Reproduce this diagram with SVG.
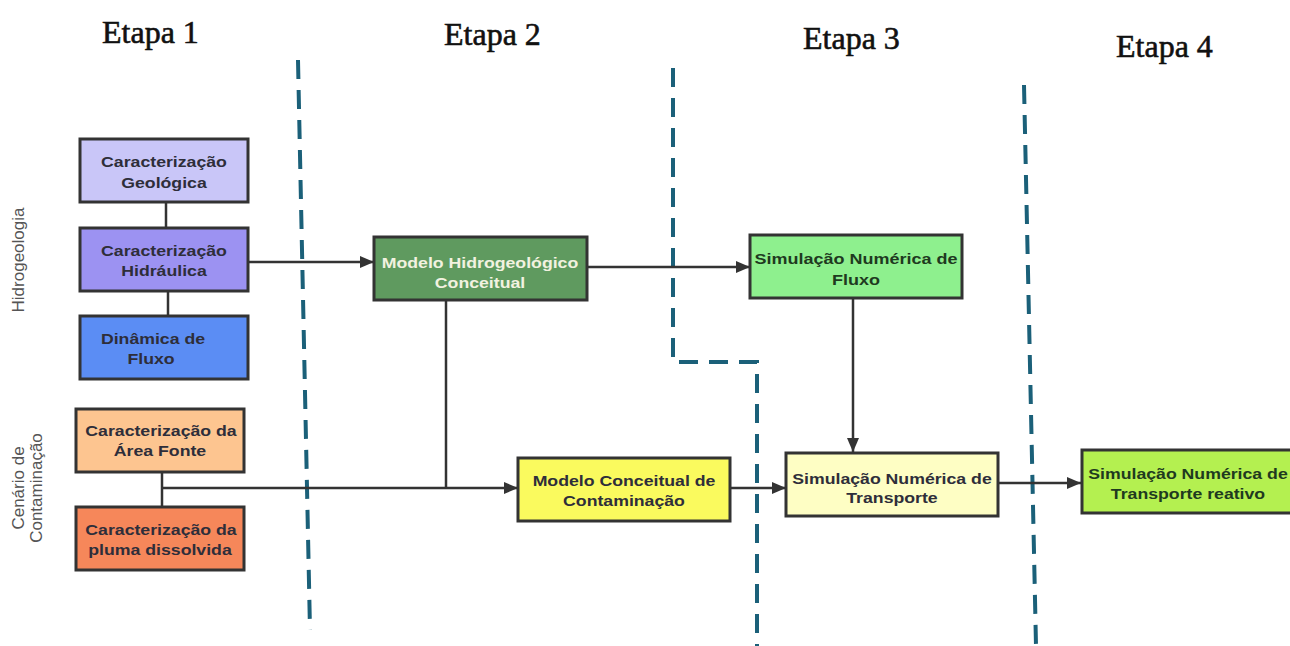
<svg xmlns="http://www.w3.org/2000/svg" width="1290" height="646" viewBox="0 0 1290 646">
<style>
.title{font-family:"Liberation Serif",serif;font-size:32px;fill:#111;stroke:#111;stroke-width:0.6}
.side{font-family:"Liberation Sans",Arial,sans-serif;font-size:17px;fill:#555}
.box{stroke:#333;stroke-width:3}
.t{font-family:"Liberation Sans",Arial,sans-serif;font-size:15px;font-weight:bold;fill:#2e2e3a;text-anchor:middle}
.w{fill:#f2f2e0}
.g{fill:#1f3a1f}
.c{fill:none;stroke:#333;stroke-width:2.5}
.d{fill:none;stroke:#1b6079;stroke-width:4;stroke-dasharray:19 11}
</style>
<defs>
<marker id="ah" viewBox="0 0 14 12" refX="14" refY="6" markerWidth="14" markerHeight="12" markerUnits="userSpaceOnUse" orient="auto">
<path d="M0,0 L14,6 L0,12 Z" fill="#333"/>
</marker>
</defs>
<rect width="1290" height="646" fill="#fff"/>
<g id="titles">
<text class="title" x="102" y="43">Etapa 1</text>
<text class="title" x="444" y="45">Etapa 2</text>
<text class="title" x="803" y="49">Etapa 3</text>
<text class="title" x="1116" y="57">Etapa 4</text>
</g>
<g id="side-labels">
<text class="side" transform="translate(24,260) rotate(-90)" text-anchor="middle">Hidrogeologia</text>
<text class="side" transform="translate(24,488) rotate(-90)" text-anchor="middle">Cenário de</text>
<text class="side" transform="translate(42,488) rotate(-90)" text-anchor="middle">Contaminação</text>
</g>
<g id="dividers">
<path class="d" d="M298,60 L310,630"/>
<path class="d" d="M673,68 L673,362 L757,362 L757,646"/>
<path class="d" d="M1024,85 L1036,646"/>
</g>
<g id="connectors">
<path class="c" d="M166,201 V227"/>
<path class="c" d="M168,291 V315"/>
<path class="c" d="M248,262 H374" marker-end="url(#ah)"/>
<path class="c" d="M587,267 H750" marker-end="url(#ah)"/>
<path class="c" d="M446,300 V488"/>
<path class="c" d="M162,472 V507"/>
<path class="c" d="M162,488 H518" marker-end="url(#ah)"/>
<path class="c" d="M730,488 H786" marker-end="url(#ah)"/>
<path class="c" d="M853,298 V452" marker-end="url(#ah)"/>
<path class="c" d="M998,483 H1081" marker-end="url(#ah)"/>
</g>
<g id="n-geologica">
<rect class="box" x="80" y="139" width="168" height="63" fill="#c9c6f8"/>
<text class="t" transform="translate(164,167) scale(1.18,1)">Caracterização</text>
<text class="t" transform="translate(164,188) scale(1.18,1)">Geológica</text>
</g>
<g id="n-hidraulica">
<rect class="box" x="80" y="228" width="168" height="63" fill="#9c92f2"/>
<text class="t" transform="translate(164,256) scale(1.18,1)">Caracterização</text>
<text class="t" transform="translate(164,276) scale(1.18,1)">Hidráulica</text>
</g>
<g id="n-dinamica">
<rect class="box" x="80" y="316" width="168" height="63" fill="#5b8df4"/>
<text class="t" transform="translate(153,344) scale(1.18,1)">Dinâmica de</text>
<text class="t" transform="translate(151,364) scale(1.18,1)">Fluxo</text>
</g>
<g id="n-area-fonte">
<rect class="box" x="76" y="409" width="168" height="63" fill="#fdc590"/>
<text class="t" transform="translate(161,436) scale(1.18,1)">Caracterização da</text>
<text class="t" transform="translate(160,456) scale(1.18,1)">Área Fonte</text>
</g>
<g id="n-pluma">
<rect class="box" x="76" y="507" width="168" height="63" fill="#f6875a"/>
<text class="t" transform="translate(161,535) scale(1.18,1)">Caracterização da</text>
<text class="t" transform="translate(160,555) scale(1.18,1)">pluma dissolvida</text>
</g>
<g id="n-modelo-hidro">
<rect class="box" x="374" y="237" width="213" height="63" fill="#5f9a5f"/>
<text class="t w" transform="translate(480,268) scale(1.18,1)">Modelo Hidrogeológico</text>
<text class="t w" transform="translate(480,288) scale(1.18,1)">Conceitual</text>
</g>
<g id="n-modelo-contam">
<rect class="box" x="518" y="458" width="212" height="63" fill="#fafa5e"/>
<text class="t" transform="translate(624,486) scale(1.18,1)">Modelo Conceitual de</text>
<text class="t" transform="translate(624,506) scale(1.18,1)">Contaminação</text>
</g>
<g id="n-sim-fluxo">
<rect class="box" x="750" y="235" width="212" height="63" fill="#8ef08e"/>
<text class="t g" transform="translate(856,264) scale(1.2,1)">Simulação Numérica de</text>
<text class="t g" transform="translate(856,285) scale(1.2,1)">Fluxo</text>
</g>
<g id="n-sim-transporte">
<rect class="box" x="786" y="453" width="212" height="63" fill="#fefec4"/>
<text class="t" transform="translate(892,484) scale(1.18,1)">Simulação Numérica de</text>
<text class="t" transform="translate(892,503) scale(1.18,1)">Transporte</text>
</g>
<g id="n-sim-reativo">
<rect class="box" x="1082" y="450" width="212" height="63" fill="#b4f050"/>
<text class="t g" transform="translate(1188,479) scale(1.18,1)">Simulação Numérica de</text>
<text class="t g" transform="translate(1188,499) scale(1.18,1)">Transporte reativo</text>
</g>
</svg>
